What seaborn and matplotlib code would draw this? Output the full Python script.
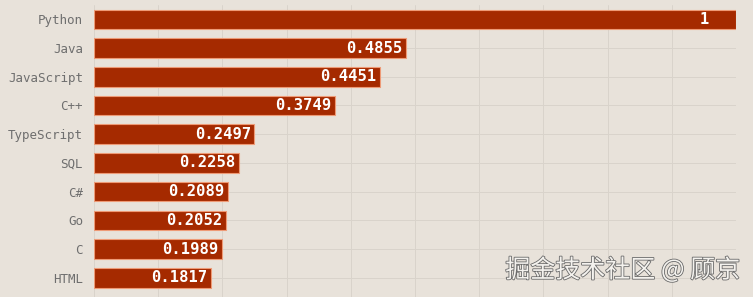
import matplotlib
matplotlib.use("Agg")
import matplotlib.pyplot as plt
import matplotlib.patheffects as pe
import seaborn as sns
import pandas as pd

languages = ["Python", "Java", "JavaScript", "C++", "TypeScript", "SQL", "C#", "Go", "C", "HTML"]
scores = [1, 0.4855, 0.4451, 0.3749, 0.2497, 0.2258, 0.2089, 0.2052, 0.1989, 0.1817]
labels = ["1", "0.4855", "0.4451", "0.3749", "0.2497", "0.2258", "0.2089", "0.2052", "0.1989", "0.1817"]

df = pd.DataFrame({"language": languages, "score": scores})

bg = "#E8E2DA"
sns.set_theme(style="whitegrid")
plt.rcParams["font.family"] = ["DejaVu Sans Mono", "Noto Sans CJK SC"]

fig = plt.figure(figsize=(7.53, 2.97), dpi=100, facecolor=bg)
ax = fig.add_axes([94 / 753, 0, 642 / 753, 1 - 5 / 297])
ax.set_facecolor(bg)

sns.barplot(data=df, x="score", y="language", orient="h", color="#A52A00",
            saturation=1, width=0.68, edgecolor="#EE9A76", linewidth=0.8, ax=ax)

ax.set_xlim(0, 1)
ax.set_ylim(9.67, -0.5)
ax.set_xticks([i / 10 for i in range(11)])
ax.set_xticklabels([])
ax.set_xlabel("")
ax.set_ylabel("")
ax.grid(True, color="#D9D3CB", linewidth=0.7)
ax.set_axisbelow(True)
for s in ax.spines.values():
    s.set_visible(False)
ax.tick_params(axis="y", length=0, pad=8, labelsize=9, labelcolor="#6E6E6E")
ax.tick_params(axis="x", length=0)

for i, (v, lab) in enumerate(zip(scores, labels)):
    ax.text(v - 0.049, i, lab, ha="center", va="center", color="white",
            fontsize=11.2, fontweight="bold", family="DejaVu Sans Mono")

fig.text(0.983, 0.09, "掘金技术社区 @ 顾京", ha="right", va="center",
         fontsize=18, color="#F4F2EE", family=["Noto Sans CJK SC", "DejaVu Sans"],
         path_effects=[pe.withStroke(linewidth=1.2, foreground="#6A6A6A")])

fig.savefig("out.png", dpi=100, facecolor=bg)
